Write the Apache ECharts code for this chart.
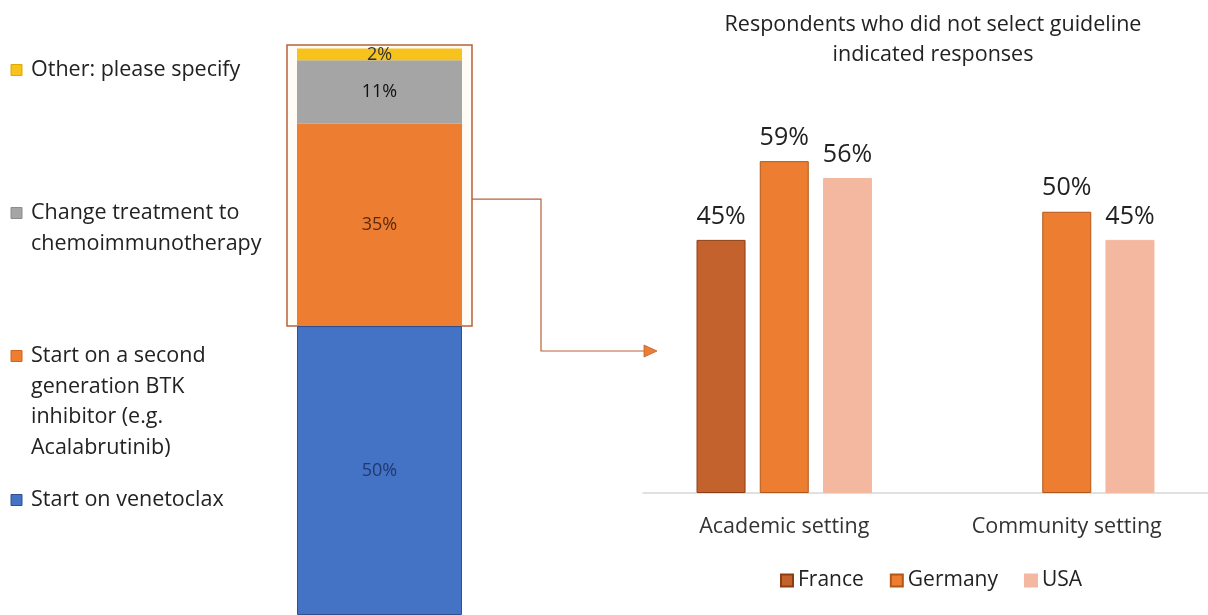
<!DOCTYPE html>
<html>
<head>
<meta charset="utf-8">
<script src="https://cdn.jsdelivr.net/npm/echarts@6/dist/echarts.min.js"></script>
<style>
html,body{margin:0;padding:0;background:#fff;}
#chart{width:1208px;height:615px;}
</style>
</head>
<body>
<div id="chart"></div>
<script>
// ---- Left stacked bar data ----
const stackNames = ['Start on venetoclax', 'Start on a second generation BTK inhibitor (e.g. Acalabrutinib)', 'Change treatment to chemoimmunotherapy', 'Other: please specify'];
const stackValues = [50, 35, 11, 2];
const stackColors = ['#4472c4', '#ed7d31', '#a5a5a5', '#f7c21b'];
const stackIconBorders = ['#2f4f8f', '#d0651f', '#8c8c8c', '#e0a800'];
const stackLabelColors = ['#1f3a6e', '#5b2a0e', '#111111', '#333333'];
const stackLegendText = [
  'Start on venetoclax',
  'Start on a second\ngeneration BTK\ninhibitor (e.g.\nAcalabrutinib)',
  'Change treatment to\nchemoimmunotherapy',
  'Other: please specify'
];

// ---- Right grouped bar data ----
const settings = ['Academic setting', 'Community setting'];
const countries = ['France', 'Germany', 'USA'];
const franceValues = [45, '-'];
const germanyValues = [59, 50];
const usaValues = [56, 45];
const countryColors = ['#c4622d', '#ed7d31', '#f4b8a1'];
const countryBorders = ['#8c3d12', '#b35718', '#f4b8a1'];
const rightTitle = 'Respondents who did not select guideline\nindicated responses';

const FONT = '"Open Sans", "Noto Sans", sans-serif';
const total = stackValues.reduce((a, b) => a + b, 0);

const chart = echarts.init(document.getElementById('chart'), null, {renderer: 'canvas'});

const series = [];
stackNames.forEach((n, i) => {
  series.push({
    name: n, type: 'bar', stack: 'all', xAxisIndex: 0, yAxisIndex: 0,
    barWidth: 165, z: 3,
    data: [stackValues[i]],
    itemStyle: {color: stackColors[i], borderColor: i === 0 ? '#2f4f8f' : 'transparent', borderWidth: i === 0 ? 1 : 0},
    label: {show: true, position: 'inside', formatter: '{c}%', fontFamily: FONT, fontSize: 18, color: stackLabelColors[i]}
  });
});
const cvals = [franceValues, germanyValues, usaValues];
countries.forEach((c, i) => {
  series.push({
    name: c, type: 'bar', xAxisIndex: 1, yAxisIndex: 1,
    barWidth: 49, barGap: '29%', barCategoryGap: '38%',
    data: cvals[i],
    itemStyle: {color: countryColors[i], borderColor: countryBorders[i], borderWidth: 1},
    label: {show: true, position: 'top', distance: 11, formatter: '{c}%', fontFamily: FONT, fontSize: 25, color: '#222'}
  });
});

const option = {
  backgroundColor: '#fff',
  animation: false,
  title: {text: rightTitle, left: 928, top: 5, textAlign: 'center',
    textStyle: {fontFamily: FONT, fontSize: 21.5, fontWeight: 'normal', color: '#222', lineHeight: 30}},
  legend: {
    data: countries, left: 780, top: 570, padding: 0, icon: 'rect', itemWidth: 12, itemHeight: 12, itemGap: 26,
    textStyle: {fontFamily: FONT, fontSize: 21, color: '#222'}
  },
  grid: [
    {left: 287, width: 185, top: 48.6, height: 568.4},
    {left: 643, right: -3, top: 43, bottom: 122}
  ],
  xAxis: [
    {type: 'category', gridIndex: 0, data: [''], show: false},
    {type: 'category', gridIndex: 1, data: settings,
      axisLine: {lineStyle: {color: '#d6d6d6', width: 1.5}}, axisTick: {show: false},
      axisLabel: {fontFamily: FONT, fontSize: 21.5, color: '#333', margin: 23}}
  ],
  yAxis: [
    {type: 'value', gridIndex: 0, min: 0, max: total, show: false},
    {type: 'value', gridIndex: 1, min: 0, max: 80, show: false}
  ],
  series: series
};
chart.setOption(option);

// Left legend (icon aligned with the first line of each label)
const LH = 30.5;
const legendFirstLineY = [500, 356, 213, 70];
const graphics = [];
stackLegendText.forEach((t, i) => {
  const c = legendFirstLineY[i];
  graphics.push({type: 'rect', shape: {x: 11, y: c - 5.5, width: 11, height: 11},
    style: {fill: stackColors[i], stroke: stackIconBorders[i], lineWidth: 1}});
  graphics.push({type: 'text', x: 31, y: c - LH / 2,
    style: {text: t, fontFamily: FONT, fontSize: 21.5, lineHeight: LH, fill: '#222', verticalAlign: 'top', align: 'left'}});
});

// Highlight box around non-venetoclax answers and connector arrow
const pTop = chart.convertToPixel({xAxisIndex: 0, yAxisIndex: 0}, [0, total]);
const pBot = chart.convertToPixel({xAxisIndex: 0, yAxisIndex: 0}, [0, stackValues[0]]);
const boxL = pTop[0] - 92.5, boxR = pTop[0] + 92.5;
const boxT = pTop[1] - 3.5, boxB = pBot[1];
const lineY = boxT + (boxB - boxT) * 0.548;
const arrowY = boxB + 25;
const elbowX = boxR + 69;
const arrowEnd = 657;
const lineColor = '#b8623a';
graphics.push(
  {type: 'rect', z: 1, shape: {x: boxL, y: boxT, width: boxR - boxL, height: boxB - boxT},
    style: {fill: '#fffcf6', stroke: lineColor, lineWidth: 1.5}},
  {type: 'polyline', z: 1, shape: {points: [[boxR, lineY], [elbowX, lineY], [elbowX, arrowY], [arrowEnd - 12, arrowY]]},
    style: {stroke: lineColor, lineWidth: 1.2, fill: null}},
  {type: 'polygon', z: 1, shape: {points: [[arrowEnd - 13, arrowY - 6], [arrowEnd, arrowY], [arrowEnd - 13, arrowY + 6]]},
    style: {fill: '#ed7d31', stroke: '#b8623a', lineWidth: 0.8}}
);
chart.setOption({graphic: graphics});
</script>
</body>
</html>
